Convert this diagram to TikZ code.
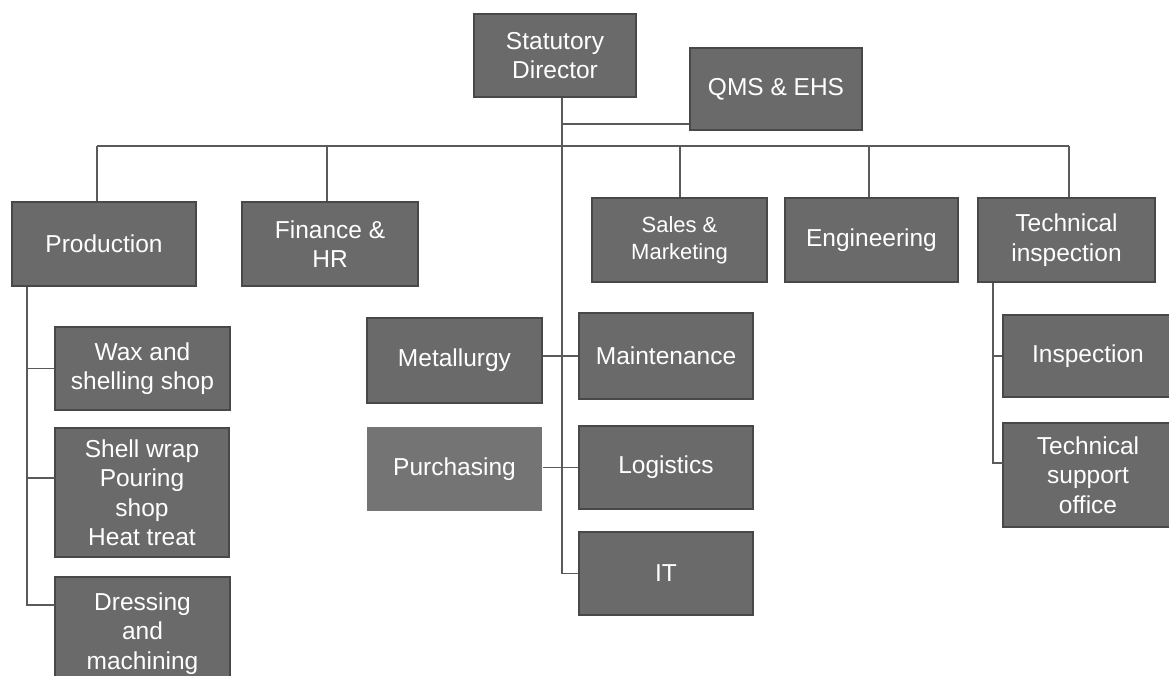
\documentclass[tikz,border=0pt]{standalone}
\usepackage{fontspec}
\setmainfont{Liberation Sans}
\definecolor{boxfill}{HTML}{6A6A6A}
\definecolor{boxedge}{HTML}{484848}
\definecolor{purchfill}{HTML}{747474}
\definecolor{linecol}{HTML}{5A5A5A}
\begin{document}
\begin{tikzpicture}[x=1pt,y=-1pt,
  box/.style={draw=boxedge,fill=boxfill,line width=1.4pt,text=white,align=center,inner sep=0pt,
    font=\fontsize{24.5}{29.5}\selectfont},
  link/.style={draw=linecol,line width=1.1pt}]
\clip (0,0) rectangle (1169,675);
\fill[white] (0,0) rectangle (1169,675);
% top
\node[box,minimum width=162pt,minimum height=83pt] (sd) at (555,55.5) {Statutory\\Director};
\node[box,minimum width=172pt,minimum height=82pt] (qms) at (776,89) {QMS \& EHS};
% second level
\node[box,minimum width=184pt,minimum height=84pt] (prod) at (104,244) {Production};
\node[box,minimum width=176pt,minimum height=84pt] (fin) at (330,244) {Finance \&\\HR};
\node[box,minimum width=175pt,minimum height=84pt,font=\fontsize{22}{27}\selectfont] (sales) at (679.5,240) {Sales \&\\Marketing};
\node[box,minimum width=173pt,minimum height=84pt] (eng) at (871.5,240) {Engineering};
\node[box,minimum width=177pt,minimum height=84pt] (tech) at (1066.5,240) {Technical\\inspection};
% production children
\node[box,minimum width=175pt,minimum height=83pt] (wax) at (142.5,368.5) {Wax and\\shelling shop};
\node[box,minimum width=174pt,minimum height=129pt] (shell) at (142,492.5) {Shell wrap\\Pouring\\shop\\Heat treat};
\node[box,minimum width=175pt,minimum height=113pt] (dress) at (142.5,633.5) {Dressing\\and\\machining};
% middle
\node[box,minimum width=175pt,minimum height=85pt] (metal) at (454.5,360.5) {Metallurgy};
\node[box,draw=none,fill=purchfill,minimum width=175pt,minimum height=84pt] (purch) at (454.5,469) {Purchasing};
\node[box,minimum width=174pt,minimum height=86pt] (maint) at (666,356) {Maintenance};
\node[box,minimum width=174pt,minimum height=83pt] (logi) at (666,467.5) {Logistics};
\node[box,minimum width=174pt,minimum height=83pt] (it) at (666,573.5) {IT};
% technical children
\node[box,minimum width=170pt,minimum height=82pt] (insp) at (1088,356) {Inspection};
\node[box,minimum width=170pt,minimum height=104pt] (tso) at (1088,475) {Technical\\support\\office};
% coordinates
\coordinate (spine) at (562,0);
\coordinate (qy) at (0,124);
\coordinate (dprod) at (97,146);
\coordinate (dfin) at (327,146);
\coordinate (dsales) at (680,146);
\coordinate (deng) at (869,146);
\coordinate (dtech) at (1069,146);
\coordinate (pv) at (27,0);
\coordinate (shellin) at (55,478);
\coordinate (dressin) at (55,605);
\coordinate (tv) at (993,0);
\coordinate (tsoin) at (1003,463);
% connectors
\draw[link] (sd.south -| spine) -- (spine |- it.west) -- (it.west);
\draw[link] (spine |- qy) -- (qms.west |- qy);
\draw[link] (dprod) -- (dtech);
\draw[link] (dprod) -- (dprod |- prod.north);
\draw[link] (dfin) -- (dfin |- fin.north);
\draw[link] (dsales) -- (dsales |- sales.north);
\draw[link] (deng) -- (deng |- eng.north);
\draw[link] (dtech) -- (dtech |- tech.north);
\draw[link] (metal.east |- maint.west) -- (maint.west);
\draw[link] (purch.east |- logi.west) -- (logi.west);
\draw[link] (pv |- prod.south) -- (pv |- dressin) -- (dressin);
\draw[link] (pv |- wax.west) -- (wax.west);
\draw[link] (pv |- shellin) -- (shellin);
\draw[link] (tv |- tech.south) -- (tv |- tsoin) -- (tsoin);
\draw[link] (tv |- insp.west) -- (insp.west);
\end{tikzpicture}
\end{document}
